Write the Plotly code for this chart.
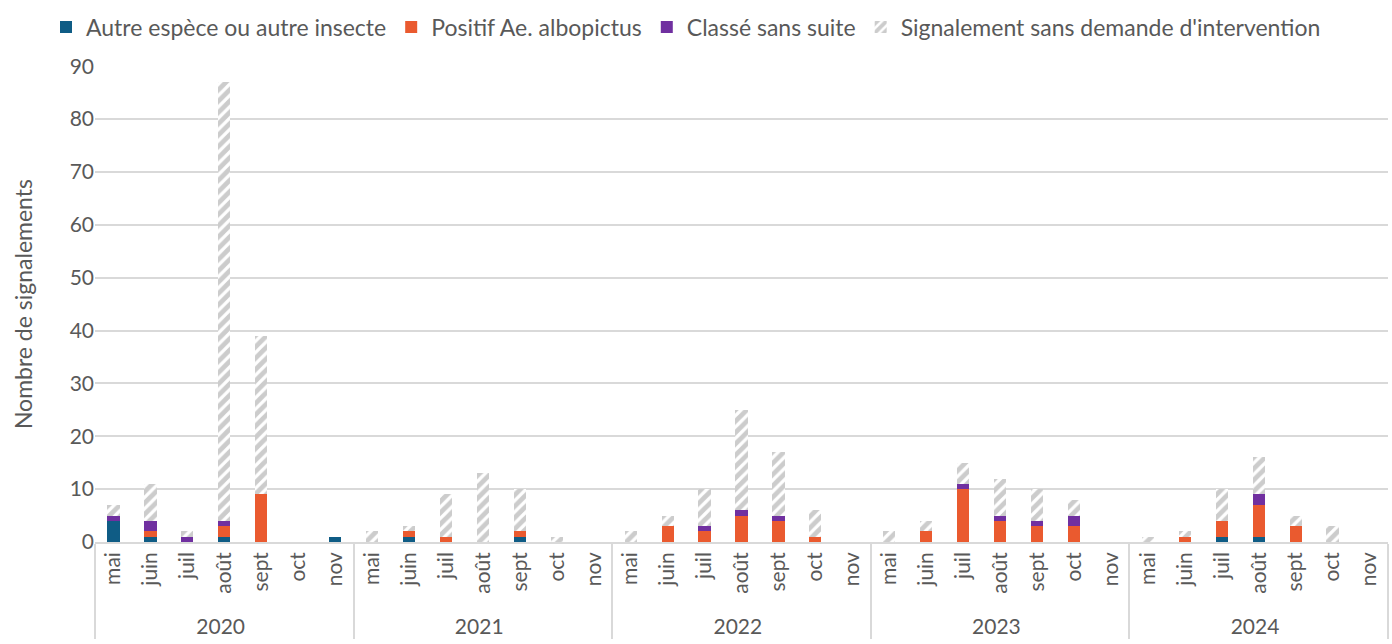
import plotly.graph_objects as go

years = ["2020", "2021", "2022", "2023", "2024"]
months = ["mai", "juin", "juil", "août", "sept", "oct", "nov"]

# monthly counts per year, mai..nov
autre_espece = [
    4, 1, 0, 1, 0, 0, 1,
    0, 1, 0, 0, 1, 0, 0,
    0, 0, 0, 0, 0, 0, 0,
    0, 0, 0, 0, 0, 0, 0,
    0, 0, 1, 1, 0, 0, 0,
]
positif_albopictus = [
    0, 1, 0, 2, 9, 0, 0,
    0, 1, 1, 0, 1, 0, 0,
    0, 3, 2, 5, 4, 1, 0,
    0, 2, 10, 4, 3, 3, 0,
    0, 1, 3, 6, 3, 0, 0,
]
classe_sans_suite = [
    1, 2, 1, 1, 0, 0, 0,
    0, 0, 0, 0, 0, 0, 0,
    0, 0, 1, 1, 1, 0, 0,
    0, 0, 1, 1, 1, 2, 0,
    0, 0, 0, 2, 0, 0, 0,
]
sans_demande = [
    2, 7, 1, 83, 30, 0, 0,
    2, 1, 8, 13, 8, 1, 0,
    2, 2, 7, 19, 12, 5, 0,
    2, 2, 4, 7, 6, 3, 0,
    1, 1, 6, 7, 2, 3, 0,
]

x_year = [y for y in years for _ in months]
x_month = [m for _ in years for m in months]
x = [x_year, x_month]

text_color = "#595959"
font_family = "Lato, 'Open Sans', sans-serif"

fig = go.Figure()
fig.add_bar(x=x, y=autre_espece, name="Autre espèce ou autre insecte",
            marker=dict(color="#0F5C85", line=dict(width=0)))
fig.add_bar(x=x, y=positif_albopictus, name="Positif Ae. albopictus",
            marker=dict(color="#EA5A2F", line=dict(width=0)))
fig.add_bar(x=x, y=classe_sans_suite, name="Classé sans suite",
            marker=dict(color="#7030A0", line=dict(width=0)))
fig.add_bar(x=x, y=sans_demande, name="Signalement sans demande d'intervention",
            marker=dict(color="white", line=dict(width=0),
                        pattern=dict(shape="/", fgcolor="#999999", bgcolor="white",
                                     size=8, solidity=0.6)))

fig.update_layout(
    barmode="stack",
    bargap=0.67,
    width=1392, height=644,
    margin=dict(l=95, r=4, t=64, b=102),
    paper_bgcolor="white", plot_bgcolor="white",
    font=dict(family=font_family, color=text_color, size=20),
    legend=dict(orientation="h", xref="container", yref="container",
                x=686 / 1392, xanchor="center", y=1 - 27 / 644, yanchor="middle",
                font=dict(size=23, color=text_color), traceorder="normal",
                itemwidth=30, itemsizing="constant"),
    xaxis=dict(type="multicategory", tickangle=-90, showline=True,
               linecolor="#D9D9D9", linewidth=1.5, showdividers=True,
               dividercolor="#D9D9D9", dividerwidth=1.5,
               tickfont=dict(size=21, color=text_color), ticks=""),
    yaxis=dict(range=[0, 90], dtick=10, showgrid=True, gridcolor="#D9D9D9",
               gridwidth=1.5, zeroline=False, ticks="",
               tickfont=dict(size=21, color=text_color),
               title=dict(text="Nombre de signalements", font=dict(size=23, color=text_color),
                          standoff=30)),
)

fig.write_html("out.html")
